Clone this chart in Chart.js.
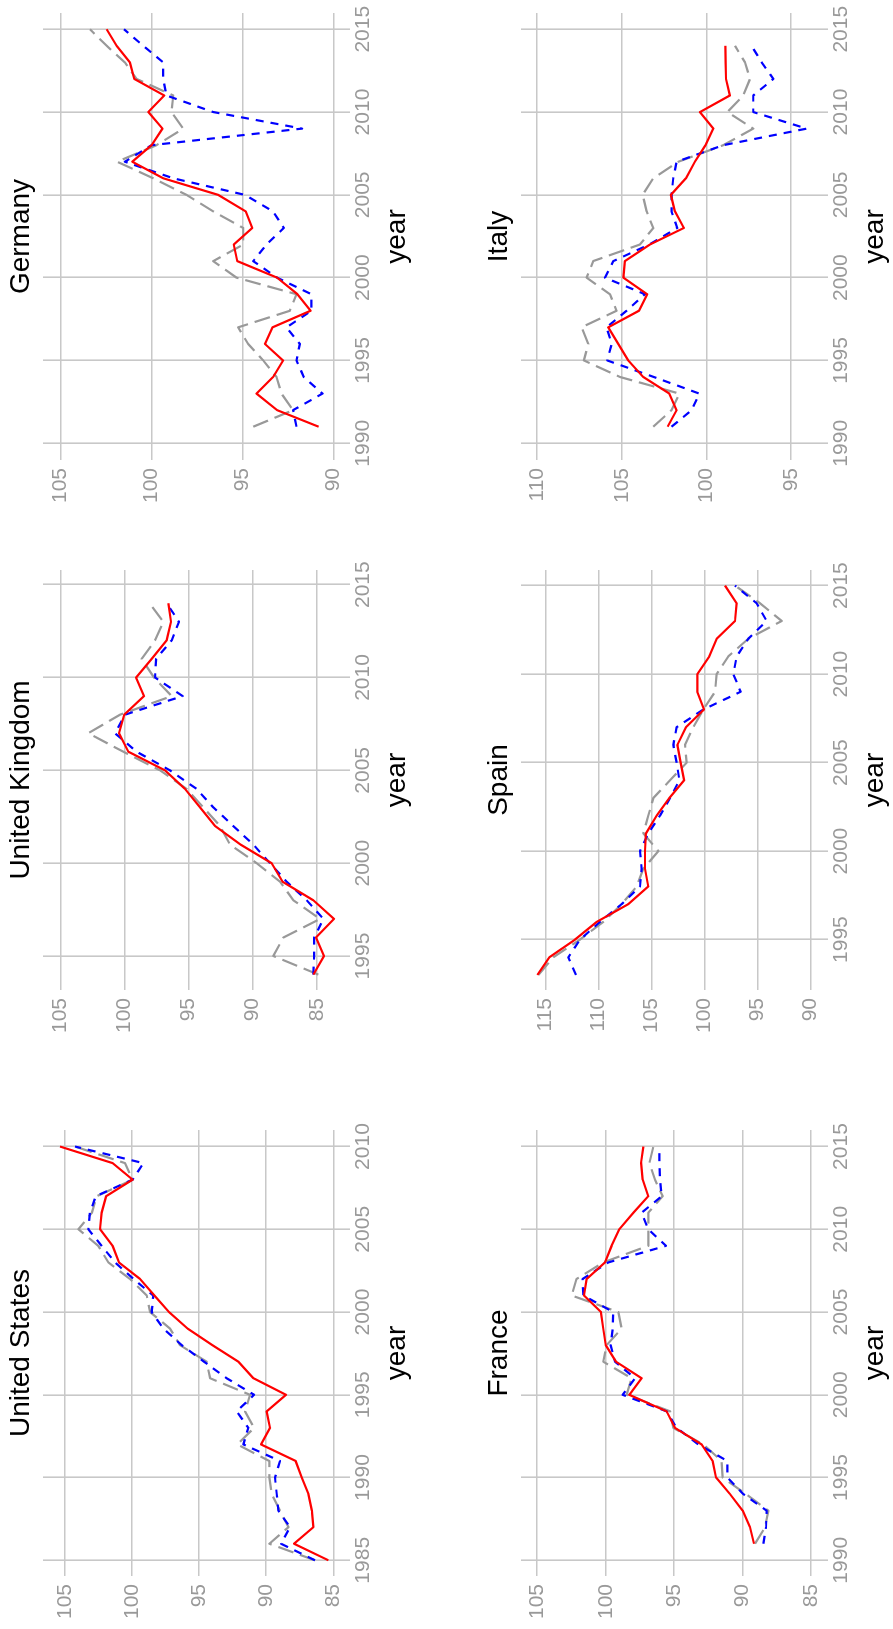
<!DOCTYPE html>
<html>
<head>
<meta charset="utf-8">
<script src="https://cdn.jsdelivr.net/npm/chart.js@4.4.1/dist/chart.umd.min.js"></script>
<style>
  html, body { margin: 0; padding: 0; background: #fff; width: 893px; height: 1629px; overflow: hidden; }
  /* the sheet is laid out landscape and turned a quarter turn to stand upright */
  #sheet { position: absolute; left: 0; top: 0; width: 1629px; height: 893px;
           transform-origin: 0 0; transform: translateY(1629px) rotate(-90deg); background: #fff; }
  #sheet canvas { position: absolute; }
</style>
</head>
<body>
<div id="sheet"></div>
<script>
// ---- data: one year list and three series per country ----
const usYears = [1985,1986,1987,1988,1989,1990,1991,1992,1993,1994,1995,1996,1997,1998,1999,2000,2001,2002,2003,2004,2005,2006,2007,2008,2009,2010];
const usRed   = [85.37,87.93,86.49,86.6,86.86,87.36,87.81,90.39,89.72,89.97,88.53,90.96,92.08,94.02,95.86,97.25,98.34,99.41,100.98,101.45,102.39,102.27,101.94,99.96,101.45,105.37];
const usBlue  = [86.37,88.9,88.23,89.1,89.22,89.35,88.98,91.71,91.34,92.2,90.91,92.95,94.64,96.3,97.67,98.54,98.42,99.9,101.27,102.27,103.26,103.14,102.71,99.96,99.16,104.25];
const usGrey  = [86.37,89.77,88.35,88.98,89.6,89.77,89.77,92.16,90.91,91.58,91.21,94.19,94.44,96.43,97.17,98.66,98.91,100.16,101.77,102.52,104.0,103.0,102.64,99.96,100.53,104.25];

const ukYears = [1994,1995,1996,1997,1998,1999,2000,2001,2002,2003,2004,2005,2006,2007,2008,2009,2010,2011,2012,2013,2014];
const ukRed   = [85.26,84.43,85.05,83.65,85.26,87.66,88.52,90.94,92.94,94.1,95.29,96.85,99.71,100.44,100.03,98.49,99.11,97.89,96.72,96.38,96.59];
const ukBlue  = [85.26,85.2,85.2,84.48,85.78,87.34,88.65,89.95,91.51,93.07,94.38,96.46,99.06,100.76,99.97,95.47,97.63,97.55,96.33,95.76,96.72];
const ukGrey  = [84.87,88.39,87.6,84.74,86.82,87.86,89.69,91.77,92.55,93.85,95.16,97.24,100.1,102.84,100.36,96.33,97.71,98.67,97.63,96.98,98.07];

const deYears = [1991,1992,1993,1994,1995,1996,1997,1998,1999,2000,2001,2002,2003,2004,2005,2006,2007,2008,2009,2010,2011,2012,2013,2014,2015];
const deRed   = [90.81,93.1,94.23,93.32,92.77,93.77,93.35,91.26,91.98,93.1,95.29,95.48,94.47,94.82,96.34,99.36,101.06,100.0,99.4,100.18,99.3,100.95,101.19,101.92,102.47];
const deBlue  = [92.03,92.22,90.6,91.63,92.03,91.85,92.58,91.21,91.21,93.1,94.41,93.68,92.73,93.32,94.87,98.81,101.47,100.0,91.72,96.61,99.18,99.36,99.36,100.46,101.52];
const deGrey  = [94.41,92.22,92.86,93.13,93.86,94.69,95.24,92.4,92.03,95.33,96.61,94.96,94.96,96.61,98.08,99.91,101.89,99.73,98.26,98.9,98.81,100.82,101.47,102.47,103.39];

const frYears = [1991,1992,1993,1994,1995,1996,1997,1998,1999,2000,2001,2002,2003,2004,2005,2006,2007,2008,2009,2010,2011,2012,2013,2014,2015];
const frRed   = [89.17,89.46,89.99,90.92,91.94,92.19,92.99,94.94,95.55,98.28,97.38,99.25,100.0,100.18,100.35,101.59,101.39,100.05,99.57,99.01,97.98,96.89,97.3,97.42,97.25];
const frBlue  = [88.48,88.29,88.24,89.95,91.11,91.11,93.23,94.82,95.55,98.76,97.86,99.32,99.64,99.49,99.45,101.64,101.69,99.81,95.6,96.89,97.38,95.91,96.04,96.08,96.08];
const frGrey  = [89.09,88.36,88.12,89.75,91.46,91.53,92.87,95.06,95.3,98.47,98.11,100.18,99.93,98.84,99.08,102.49,102.13,100.18,96.89,96.89,96.89,95.84,96.4,96.81,96.52];

const esYears = [1993,1994,1995,1996,1997,1998,1999,2000,2001,2002,2003,2004,2005,2006,2007,2008,2009,2010,2011,2012,2013,2014,2015];
const esRed   = [115.75,114.62,112.2,110.16,107.18,105.3,105.61,105.61,105.52,104.51,103.32,101.93,102.25,102.56,101.75,100.05,100.68,100.68,99.55,98.86,97.13,96.97,98.07];
const esBlue  = [112.11,112.83,111.73,109.85,107.81,106.08,105.92,106.08,105.3,104.2,103.25,102.37,102.63,102.94,102.63,100.11,96.6,97.29,96.97,95.87,94.15,95.09,97.13];
const esGrey  = [115.66,114.25,111.73,109.54,107.81,106.39,105.77,104.35,105.77,105.3,104.82,103.25,101.68,101.84,101.06,100.11,99.01,98.86,97.76,95.87,92.73,94.77,97.13];

const itYears = [1991,1992,1993,1994,1995,1996,1997,1998,1999,2000,2001,2002,2003,2004,2005,2006,2007,2008,2009,2010,2011,2012,2013,2014];
const itRed   = [102.29,101.76,102.19,103.73,104.62,105.21,105.8,103.99,103.5,104.91,104.82,103.34,101.33,101.86,102.1,101.21,100.68,100.05,99.59,100.38,98.61,98.84,98.86,98.88];
const itBlue  = [102.06,100.87,100.42,103.1,105.86,105.6,105.9,104.72,103.63,106.0,105.5,103.38,101.72,102.06,102.06,101.96,101.76,99.0,94.07,97.23,97.23,96.04,96.73,97.33];
const itGrey  = [103.14,102.06,101.6,105.1,107.24,106.98,107.38,105.31,105.7,107.08,106.69,103.93,103.14,103.53,103.77,103.14,101.66,99.0,97.23,98.76,97.82,97.42,97.72,98.31];

// ---- panels: title, series and axis windows ----
const panels = [
  { title: 'United States',  years: usYears, red: usRed, blue: usBlue, grey: usGrey, col: 0, row: 0, x: [1984.05, 2011.0], y: [83.76, 106.64] },
  { title: 'United Kingdom', years: ukYears, red: ukRed, blue: ukBlue, grey: ukGrey, col: 1, row: 0, x: [1993.17, 2015.79], y: [82.40, 106.38] },
  { title: 'Germany',        years: deYears, red: deRed, blue: deBlue, grey: deGrey, col: 2, row: 0, x: [1988.99, 2015.98], y: [89.09, 105.97] },
  { title: 'France',         years: frYears, red: frRed, blue: frBlue, grey: frGrey, col: 0, row: 1, x: [1989.05, 2016.0], y: [83.76, 106.19] },
  { title: 'Spain',          years: esYears, red: esRed, blue: esBlue, grey: esGrey, col: 1, row: 1, x: [1992.15, 2015.88], y: [88.37, 117.29] },
  { title: 'Italy',          years: itYears, red: itRed, blue: itBlue, grey: itGrey, col: 2, row: 1, x: [1988.99, 2015.98], y: [92.81, 110.96] }
];

// ---- page grid (landscape sheet coordinates) ----
const cols = [
  { left: 0,    width: 543, plotLeft: 53,   plotRight: 499 },
  { left: 543,  width: 543, plotLeft: 639,  plotRight: 1059 },
  { left: 1086, width: 543, plotLeft: 1169, plotRight: 1616 }
];
const rows = [
  { top: 0,   height: 478, plotTop: 43,  plotBottom: 350 },
  { top: 478, height: 415, plotTop: 521, plotBottom: 828 }
];
const X_AXIS_H = 64;
const FONT = "'Liberation Sans', Arial, Helvetica, sans-serif";
const TITLE_SIZE = 28;
const AXIS_TITLE_SIZE = 28;
const TICK_SIZE = 21;
const GRID = '#c8c8c8';
const TICK = '#999999';

const sheet = document.getElementById('sheet');

function series(years, vals) {
  return years.map((yr, i) => ({ x: yr, y: vals[i] }));
}

panels.forEach(p => {
  const c = cols[p.col], r = rows[p.row];
  const canvas = document.createElement('canvas');
  canvas.width = c.width; canvas.height = r.height;
  canvas.style.left = c.left + 'px'; canvas.style.top = r.top + 'px';
  canvas.style.width = c.width + 'px'; canvas.style.height = r.height + 'px';
  sheet.appendChild(canvas);

  const yAxisW = c.plotLeft - c.left;
  const padRight = c.left + c.width - c.plotRight;
  const titleH = r.plotTop - r.top;
  const padBottom = r.height - titleH - (r.plotBottom - r.plotTop) - X_AXIS_H;
  const titleLine = TITLE_SIZE * 1.2;
  const titleTop = 21.7 - titleLine / 2;

  new Chart(canvas, {
    type: 'line',
    data: {
      datasets: [
        { data: series(p.years, p.red),  borderColor: '#ff0000', borderWidth: 2.2 },
        { data: series(p.years, p.blue), borderColor: '#0000ff', borderWidth: 2.2, borderDash: [8, 7] },
        { data: series(p.years, p.grey), borderColor: '#999999', borderWidth: 2.2, borderDash: [16, 7] }
      ]
    },
    options: {
      responsive: false,
      animation: false,
      devicePixelRatio: 1,
      elements: {
        point: { radius: 0, hoverRadius: 0 },
        line: { tension: 0, fill: false, borderJoinStyle: 'round', borderCapStyle: 'butt' }
      },
      layout: { padding: { left: 0, top: 0, right: padRight, bottom: padBottom } },
      plugins: {
        legend: { display: false },
        tooltip: { enabled: false },
        title: {
          display: true, text: p.title, fullSize: false, align: 'center', color: '#000000',
          font: { family: FONT, size: TITLE_SIZE, weight: 'normal', lineHeight: 1.2 },
          padding: { top: titleTop, bottom: titleH - titleLine - titleTop }
        }
      },
      scales: {
        x: {
          type: 'linear', position: 'bottom',
          min: p.x[0], max: p.x[1],
          grid: { color: GRID, lineWidth: 1.6, drawTicks: false },
          border: { display: false },
          ticks: {
            stepSize: 5, includeBounds: false, autoSkip: false, maxRotation: 0, minRotation: 0,
            padding: 1, color: TICK, font: { family: FONT, size: TICK_SIZE },
            callback: v => String(v)
          },
          title: {
            display: true, text: 'year', color: '#000000',
            font: { family: FONT, size: AXIS_TITLE_SIZE, lineHeight: 1.2 }, padding: { top: 0, bottom: 0 }
          },
          afterFit: s => { s.height = X_AXIS_H; }
        },
        y: {
          type: 'linear', position: 'left',
          min: p.y[0], max: p.y[1],
          grid: { color: GRID, lineWidth: 1.6, drawTicks: false },
          border: { display: false },
          ticks: {
            stepSize: 5, includeBounds: false, autoSkip: false,
            padding: 8, color: TICK, font: { family: FONT, size: TICK_SIZE },
            callback: v => String(v)
          },
          afterFit: s => { s.width = yAxisW; }
        }
      }
    }
  });
});
</script>
</body>
</html>
